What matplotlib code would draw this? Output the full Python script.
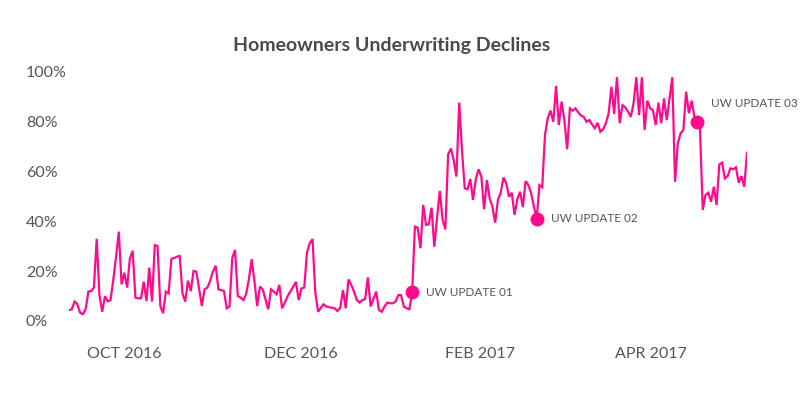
import matplotlib
matplotlib.use("Agg")
import matplotlib.pyplot as plt
import matplotlib.dates as mdates
import matplotlib.ticker as mticker
import numpy as np
import pandas as pd

# daily decline rate (%) left to right
declines = [
    4.4, 4.7, 7.8, 6.8, 3.3, 2.7, 4.7, 11.8, 12.0, 13.4,
    33.0, 10.4, 3.7, 10.0, 7.9, 8.4, 16.5, 25.8, 35.9, 14.7,
    19.4, 13.4, 25.2, 28.2, 9.4, 9.1, 9.1, 15.8, 8.0, 21.4,
    7.8, 30.5, 30.1, 6.0, 3.1, 11.8, 11.1, 24.9, 25.3, 25.8,
    26.1, 11.1, 7.8, 16.2, 12.0, 20.1, 19.8, 13.1, 6.0, 12.7,
    13.4, 16.1, 19.8, 22.2, 12.7, 12.4, 12.0, 5.1, 5.8, 25.4,
    28.5, 10.0, 9.4, 8.4, 10.8, 16.7, 24.8, 16.1, 6.0, 13.8,
    12.7, 8.7, 4.7, 12.7, 11.8, 10.7, 14.5, 5.1, 7.4, 10.0,
    11.8, 13.8, 15.7,
    8.4, 13.1, 13.4, 27.6, 31.2, 32.9, 11.4, 3.7, 5.3, 6.7,
    5.8, 5.5, 5.3, 5.1, 4.0, 5.3, 12.4, 5.1, 16.7, 14.5,
    11.8, 8.4, 7.4, 8.4, 8.8, 17.5, 5.8, 8.8, 11.8, 4.4,
    3.7, 5.8, 7.4, 7.1, 7.1, 7.8, 10.4, 10.4, 5.8, 5.1,
    4.7, 11.5,
    37.9, 37.5, 29.2, 46.6, 38.6, 38.8, 45.5, 29.8, 41.5, 52.2,
    40.6, 36.8, 66.9, 69.3, 64.7, 58.0, 87.7, 68.7, 53.3, 52.9,
    57.0, 48.6, 57.0, 60.9, 58.0, 44.9, 56.6, 49.3, 45.9, 39.5,
    48.6, 51.5, 57.6, 55.3, 49.9, 51.5, 42.6, 48.9,
    51.9, 45.7, 56.2, 54.6, 51.3, 45.9, 41.0, 54.6, 53.7, 74.7,
    81.4, 84.5, 80.0, 94.4, 78.7, 88.1, 80.7, 69.0, 85.4, 84.5,
    85.4, 83.8, 82.5, 82.0, 80.0, 80.7, 79.0, 77.4, 79.6, 76.0,
    77.0, 79.4, 83.4, 94.1, 83.1, 97.9, 79.4,
    86.7, 85.8, 84.1, 82.0, 87.4, 97.9, 82.7, 97.9, 76.7, 88.5,
    85.4, 84.7, 78.7, 87.7, 79.4, 89.4, 80.7, 89.4, 97.9, 55.9,
    71.4, 75.4, 76.7, 92.1, 83.4, 88.5, 82.0, 80.0, 77.4, 44.6,
    50.6, 51.5, 47.9, 53.9, 46.6, 62.9, 63.6, 57.3, 58.2, 61.3,
    60.9, 61.7, 55.5, 58.2, 53.9, 67.6,
]
first_day = "2016-09-12"
last_day = "2017-05-04"

update_labels = ["UW UPDATE 01", "UW UPDATE 02", "UW UPDATE 03"]
update_dates = ["2017-01-08", "2017-02-20", "2017-04-17"]

tick_dates = ["2016-10-01", "2016-12-01", "2017-02-01", "2017-04-01"]
tick_labels = ["OCT 2016", "DEC 2016", "FEB 2017", "APR 2017"]
y_ticks = [0, 0.2, 0.4, 0.6, 0.8, 1.0]

PINK = "#ff0a8c"
GREY = "#555555"

plt.rcParams["font.family"] = ["Lato", "DejaVu Sans"]

dates = pd.date_range(first_day, last_day, periods=len(declines))
rate = np.array(declines) / 100.0

fig = plt.figure(figsize=(8.0, 3.98), dpi=100)
ax = fig.add_axes([0.08625, 0.1935, 0.8475, 0.6256])
ax.plot(dates, rate, color=PINK, lw=1.6, solid_joinstyle="miter")

# update markers sit on the series at the nearest day
offsets = [(10, 0), (10, 0), (10, 13)]
for label, day, off in zip(update_labels, update_dates, offsets):
    i = int(np.argmin(np.abs(dates - pd.Timestamp(day))))
    ax.plot(dates[i], rate[i], "o", color=PINK, ms=9, zorder=3)
    ax.annotate(label, (dates[i], rate[i]), xytext=off, textcoords="offset points",
                va="center", ha="left", fontsize=8.5, color=GREY)

ax.set_xlim(dates[0], dates[-1])
ax.set_ylim(0, 1.0)
ax.set_xticks(pd.to_datetime(tick_dates))
ax.set_xticklabels(tick_labels)
ax.set_yticks(y_ticks)
ax.yaxis.set_major_formatter(mticker.PercentFormatter(1.0, decimals=0))
for lab in ax.get_yticklabels():
    lab.set_horizontalalignment("left")
ax.tick_params(axis="y", length=0, pad=31, labelsize=11.5, labelcolor=GREY)
ax.tick_params(axis="x", length=0, pad=19, labelsize=11.5, labelcolor=GREY)
for s in ax.spines.values():
    s.set_visible(False)

fig.text(0.489, 0.885, "Homeowners Underwriting Declines", ha="center", va="center",
         fontsize=14, fontweight="bold", color="#4a4a4a")

fig.savefig("out.png", dpi=100, facecolor="white")
